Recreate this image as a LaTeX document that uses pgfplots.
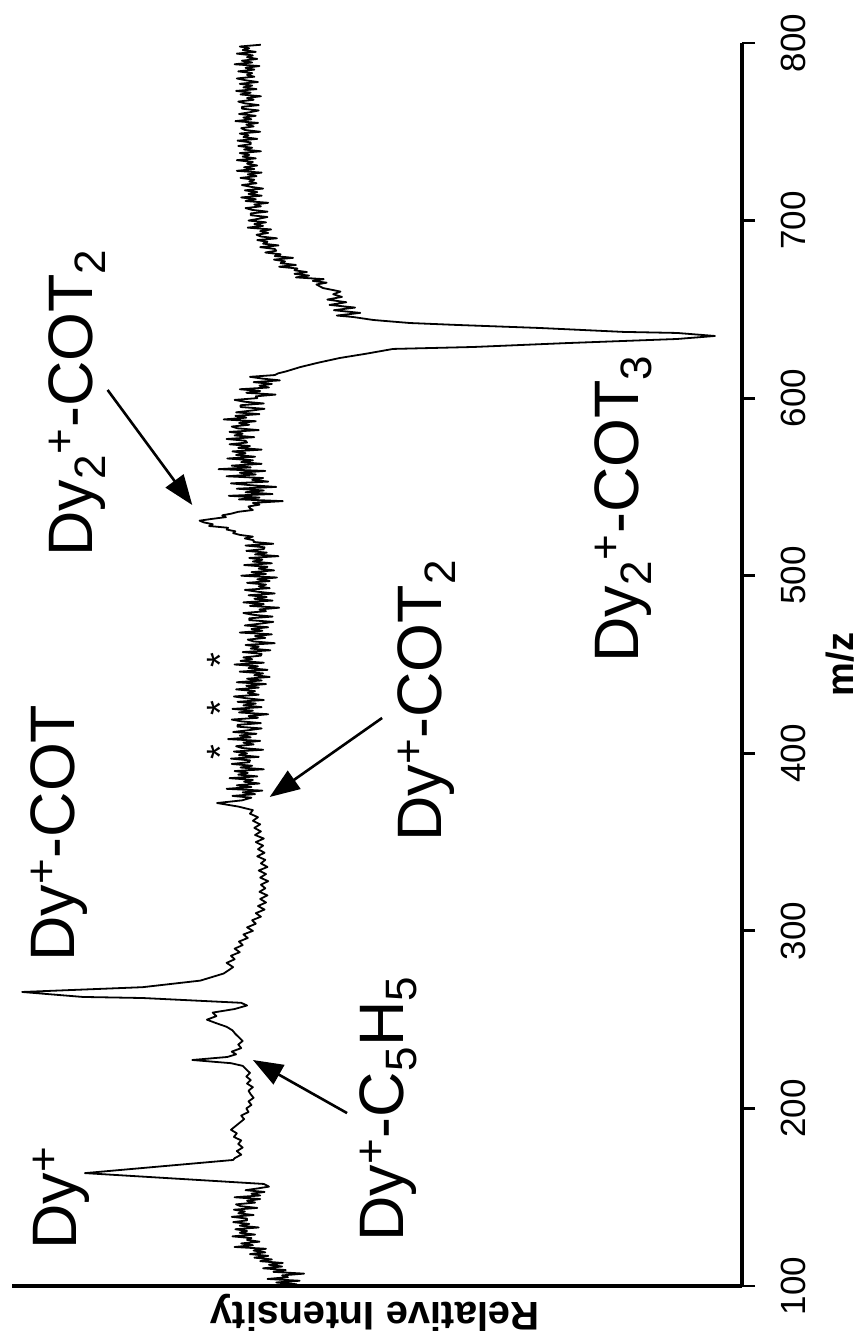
\documentclass[border=0pt]{standalone}
\usepackage{fontspec}
\setmainfont{Liberation Sans}
\usepackage{pgfplots}
\usepackage{pgfplotstable}
\pgfplotsset{compat=1.18}
\usetikzlibrary{arrows.meta}

\pgfplotstableread{
mz int
100 64.5
101 61.0
102 63.8
103 60.6
104 65.0
105 62.2
106 63.0
107 60.0
108 64.2
109 62.5
110 65.6
111 63.0
112 64.8
113 62.9
114 66.0
115 64.4
116 66.8
117 64.9
118 67.4
119 65.3
120 66.9
121 65.2
122 69.5
123 67.0
124 68.6
125 66.1
126 67.8
127 67.2
128 69.8
129 66.7
130 68.8
131 67.8
132 69.4
133 66.2
134 68.8
135 67.5
136 69.7
137 67.8
138 67.8
139 69.9
140 66.9
141 69.0
142 68.1
143 69.6
144 66.4
145 68.7
146 69.3
147 66.7
148 67.8
149 66.0
150 69.5
151 66.0
152 67.2
153 65.4
154 68.0
155 66.3
156 64.8
157.5 65.5
163.6 90.0
171 69.7
172 69.5
174 68.6
176 69.2
178 68.4
180 69.0
182 68.6
184 69.6
186 69.2
188 70.0
190 69.4
192 68.8
194 68.2
196 68.6
198 67.6
200 67.9
202 67.2
204 67.6
206 66.9
208 67.3
210 67.6
212 67.0
214 67.8
216 67.3
218 67.9
220 67.4
222 67.9
224 68.4
225.5 70.0
227.3 75.3
229 70.5
230.5 69.3
232 69.9
234 68.6
236 69.0
238 68.4
240 68.9
242 69.4
244 69.8
246 70.6
248 72.0
250 73.3
252 72.0
254 72.5
256 69.5
258 67.8
259.5 68.6
262.2 82.1
262.8 90.3
265.6 98.6
268.3 82.1
272 74.2
276 71.0
279.6 69.7
282 70.6
284 69.5
286 70.0
288 68.8
290 69.5
292 68.4
294 68.9
296 67.7
298 68.3
300 67.0
302 67.8
304 66.6
306 67.1
308 65.9
310 66.6
312 65.4
314 66.3
316 65.2
318 66.0
320 65.0
322 66.1
324 65.3
326 65.9
328 64.9
330 66.0
332 65.2
334 66.2
336 65.0
338 65.9
340 65.3
342 66.4
344 65.4
346 66.3
348 65.6
350 66.6
352 65.5
354 66.7
356 65.9
358 66.8
360 66.0
362 67.0
364 66.3
366 67.4
368 67.0
370 69.0
372 71.9
373.5 68.5
375 67.2
376 69.8
377 66.7
378 68.4
379 65.7
380 70.6
381 67.2
382 69.2
383 66.1
384 68.2
385 67.0
386 70.2
387 66.4
388 69.0
389 67.7
390 69.5
391 65.5
392 68.7
393 67.1
394 69.9
395 67.5
396 67.4
397 70.0
398 66.2
399 68.9
400 67.8
401 69.6
402 65.6
403 68.5
404 69.3
405 66.9
406 68.3
407 66.0
408 70.4
409 67.3
410 68.8
411 66.5
412 69.7
413 67.6
414 65.8
415 69.1
416 69.1
417 65.9
418 68.6
419 69.9
420 66.3
421 67.6
422 64.9
423 68.9
424 67.0
425 69.8
426 65.8
427 68.3
428 66.6
429 69.1
430 65.5
431 67.9
432 69.6
433 66.2
434 67.7
435 66.7
436 69.3
437 66.2
438 67.9
439 65.2
440 69.2
441 65.8
442 67.8
443 64.7
444 66.8
445 65.6
446 68.8
447 65.0
448 67.6
449 66.3
450 69.5
451 65.5
452 68.7
453 67.1
454 68.3
455 65.9
456 65.8
457 68.4
458 64.6
459 67.3
460 66.2
461 68.0
462 64.0
463 66.9
464 67.7
465 65.3
466 66.7
467 64.4
468 68.8
469 65.7
470 67.2
471 64.9
472 68.1
473 66.0
474 64.2
475 67.5
476 67.5
477 64.3
478 67.0
479 68.3
480 65.2
481 66.1
482 63.4
483 67.4
484 65.5
485 68.3
486 64.3
487 66.8
488 65.1
489 67.6
490 64.0
491 66.4
492 68.1
493 64.7
494 66.2
495 65.2
496 67.8
497 64.7
498 66.4
499 63.7
500 68.6
501 65.2
502 67.2
503 64.1
504 66.2
505 65.0
506 68.2
507 64.4
508 67.0
509 65.7
510 67.5
511 63.5
512 66.7
513 65.1
514 67.9
515 65.5
516 65.4
517 68.0
518 64.2
519 66.9
520 66.9
521 68.1
522 67.0
523 68.8
524 69.7
525 69.4
526 70.6
527 70.4
528 73.0
529 72.5
530 73.7
531 74.3
532 72.6
533 70.7
534 71.2
535 69.9
536 69.0
537 67.0
538 67.4
539 67.6
540 66.1
541 67.0
542 62.9
543 68.9
544 66.1
545 70.3
546 64.3
547 68.0
548 65.5
549 69.2
550 63.8
551 67.4
552 70.0
553 64.9
554 67.1
555 65.6
556 70.6
557 66.6
558 68.8
559 65.3
560 71.7
561 67.3
562 69.9
563 65.8
564 68.6
565 67.0
566 70.5
567 66.7
568 69.3
569 68.0
570 69.8
571 65.8
572 69.0
573 67.4
574 70.2
575 67.8
576 68.0
577 70.6
578 66.8
579 69.5
580 68.4
581 70.2
582 66.2
583 69.1
584 69.9
585 67.5
586 68.9
587 66.6
588 71.0
589 67.9
590 69.4
591 66.1
592 69.3
593 67.2
594 65.4
595 68.7
596 68.7
597 65.5
598 68.2
599 69.5
600 66.4
601 66.6
602 63.9
603 67.9
604 66.0
605 68.8
606 64.8
607 66.1
608 64.4
609 66.9
610 63.3
611 65.7
612 67.4
613 64.0
614 63.5
615 62.5
617.5 60.5
620 58.0
622.6 55.1
625 51.5
627.7 47.8
628.8 36.8
631 24.0
633.3 8.9
635 3.7
636.7 8.9
637.3 16.3
639.5 27.7
641.2 39.0
642.3 45.5
644 50.5
645.7 53.3
646.5 55.5
648 52.3
649.5 55.9
651 53.0
652.5 56.5
654 54.2
655.5 56.8
657 54.8
658.5 56.0
660 55.0
662 57.4
664 58.3
665 56.9
666 58.8
667 57.3
668 61.1
669 59.3
670 61.3
671 59.6
672 61.3
673 60.9
674 63.4
675 61.1
676 63.2
677 62.6
678 64.1
679 61.5
680 64.0
681 63.2
682 65.3
683 63.8
684 64.0
685 66.0
686 63.5
687 65.6
688 65.0
689 66.4
690 63.7
691 65.9
692 66.5
693 64.9
694 66.0
695 64.5
696 67.7
697 65.6
698 66.8
699 65.2
700 67.6
701 66.2
702 65.0
703 67.3
704 67.3
705 65.0
706 67.1
707 68.0
708 65.9
709 66.8
710 64.9
711 68.0
712 66.6
713 68.6
714 65.8
715 67.6
716 66.4
717 68.1
718 65.6
719 67.3
720 68.5
721 66.5
722 67.5
723 66.8
724 68.7
725 66.5
726 67.7
727 65.8
728 69.2
729 66.8
730 68.2
731 66.4
732 67.8
733 67.0
734 69.2
735 66.6
736 68.4
737 67.5
738 68.8
739 65.9
740 68.2
741 67.1
742 69.0
743 67.3
744 67.3
745 69.1
746 66.4
747 68.3
748 67.6
749 68.8
750 66.0
751 68.1
752 68.6
753 66.9
754 67.9
755 66.3
756 69.4
757 67.2
758 68.3
759 66.6
760 68.9
761 67.4
762 66.2
763 68.5
764 68.5
765 66.2
766 68.1
767 69.0
768 66.9
769 67.8
770 65.9
771 68.7
772 67.3
773 69.3
774 66.5
775 68.3
776 67.1
777 68.8
778 66.3
779 68.0
780 69.2
781 66.8
782 67.8
783 67.1
784 69.0
785 66.8
786 68.0
787 66.1
788 69.5
789 67.1
790 68.5
791 66.4
792 67.8
793 67.0
794 69.2
795 66.6
796 68.4
797 67.5
798 68.8
799 65.9
}\spec

\begin{document}
\begin{tikzpicture}
\begin{axis}[
  scale only axis,
  width=365pt, height=621.5pt,
  x dir=reverse,
  xmin=0, xmax=100, ymin=100, ymax=800,
  axis x line*=bottom, axis y line*=right,
  axis line style={line width=1.6pt, -},
  xtick=\empty,
  ytick={100,200,...,800},
  tick align=outside,
  major tick length=6.5pt,
  tick style={line width=1.4pt, black},
  /pgf/number format/assume math mode=true,
  yticklabel style={rotate=90, anchor=north, inner sep=0pt,
    font=\fontsize{17.5}{20}\selectfont},
  yticklabel shift=13pt,
  clip=false,
]
\addplot[black, line width=0.9pt, line join=round, mark=none] table[x=int, y=mz] {\spec};

\coordinate (bbA) at (axis cs:101.64,68.5);
\coordinate (bbB) at (axis cs:-17.12,824.2);

\tikzset{lab/.style={rotate=90, anchor=base west, inner sep=0pt,
  font=\fontsize{31.4}{37}\selectfont}}
\node[lab] at (axis cs:91.1,120.3) {Dy\textsuperscript{+}};
\node[lab] at (axis cs:91.4,282.5) {Dy\textsuperscript{+}-COT};
\node[lab] at (axis cs:46.4,124.8) {Dy\textsuperscript{+}-C\textsubscript{5}H\textsubscript{5}};
\node[lab] at (axis cs:41.1,350.0) {Dy\textsuperscript{+}-COT\textsubscript{2}};
\node[lab] at (axis cs:89.0,510.5) {Dy\textsubscript{2}\textsuperscript{+}-COT\textsubscript{2}};
\node[lab] at (axis cs:14.2,450.9) {Dy\textsubscript{2}\textsuperscript{+}-COT\textsubscript{3}};

\tikzset{ast/.style={rotate=90, inner sep=0pt, font=\fontsize{19}{22}\selectfont}}
\node[ast] at (axis cs:71.4,452.5) {*};
\node[ast] at (axis cs:71.4,425.5) {*};
\node[ast] at (axis cs:71.4,400.7) {*};

\tikzset{arr/.style={-{Triangle[length=15pt,width=11pt]}, line width=1.3pt, black}}
\draw[arr] (axis cs:54.1,197.4) -- (axis cs:67.0,227.3);
\draw[arr] (axis cs:49.3,419.9) -- (axis cs:64.7,375.4);
\draw[arr] (axis cs:86.9,604.6) -- (axis cs:75.3,539.8);

\node[rotate=180, anchor=base, inner sep=0pt, font=\bfseries\fontsize{20}{24}\selectfont]
  at (axis cs:50.3,91.0) {Relative Intensity};
\node[rotate=90, inner sep=0pt, font=\bfseries\fontsize{19}{23}\selectfont]
  at (axis cs:-13.5,450) {m/z};
\end{axis}
\pgfresetboundingbox
\path[use as bounding box] (bbA) rectangle (bbB);
\end{tikzpicture}
\end{document}
